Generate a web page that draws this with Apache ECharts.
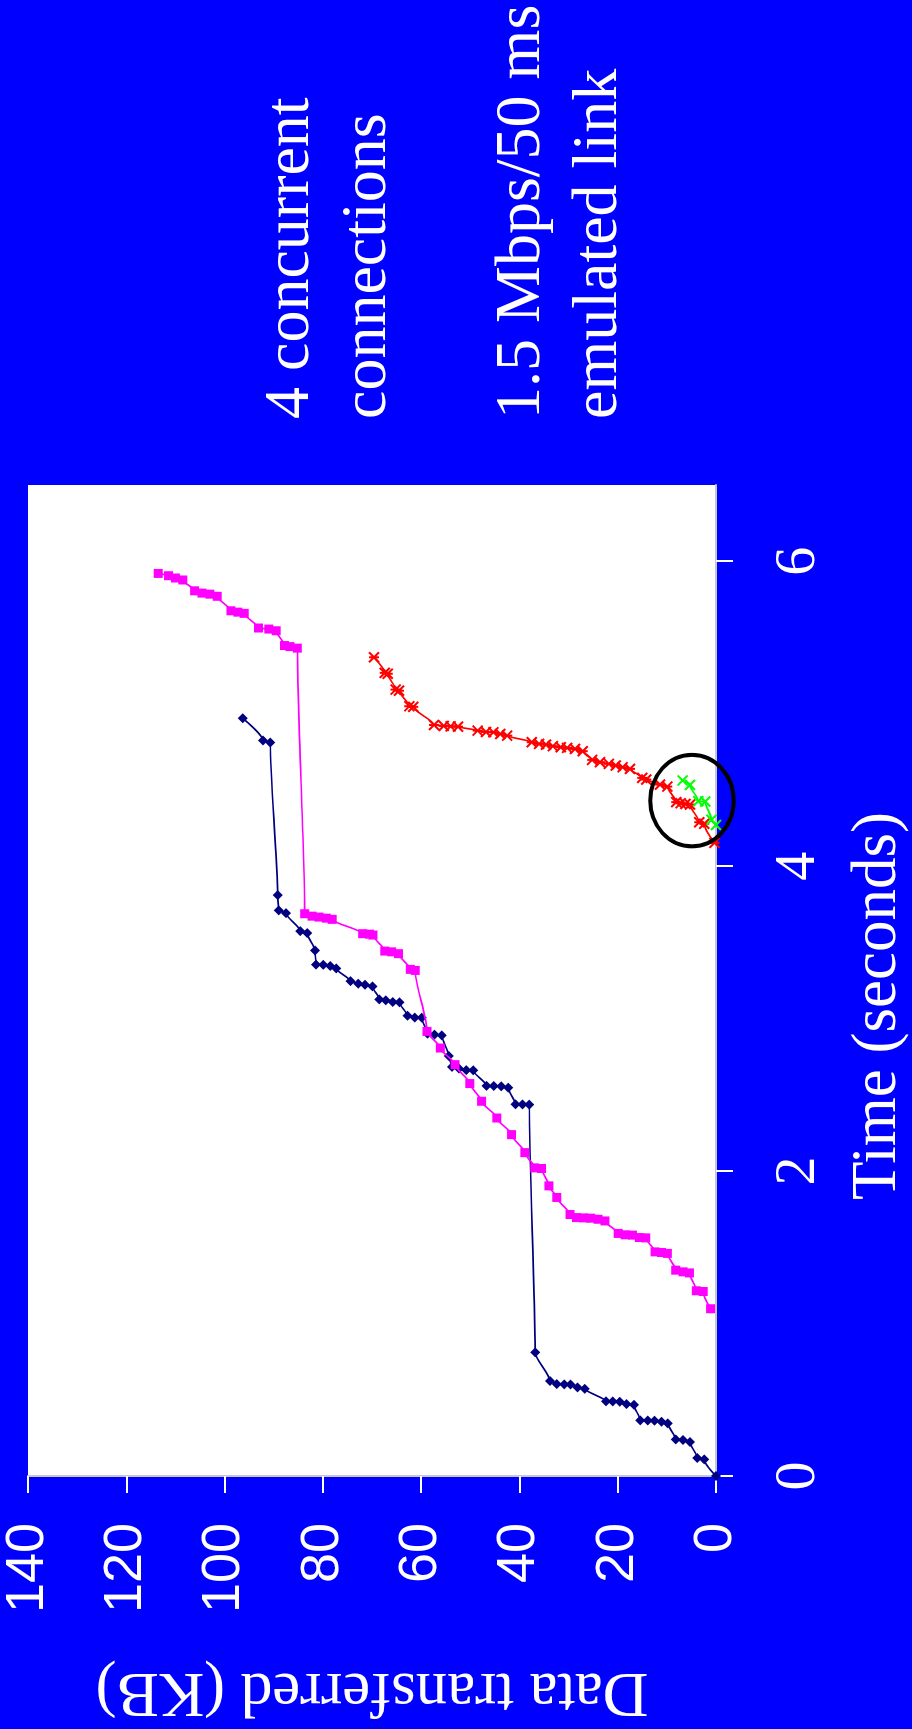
<!DOCTYPE html>
<html>
<head>
<meta charset="utf-8">
<title>Data transferred over time, 4 concurrent connections</title>
<script src="https://cdn.jsdelivr.net/npm/echarts@6/dist/echarts.min.js"></script>
<style>
  html, body { margin: 0; padding: 0; width: 912px; height: 1729px; overflow: hidden; background: #0000ff; }
  /* The slide is laid out in landscape and turned a quarter turn counter-clockwise. */
  #slide {
    position: absolute; left: 0; top: 0;
    width: 1729px; height: 912px;
    transform-origin: 0 0;
    transform: translate(0, 1729px) rotate(-90deg);
  }
</style>
</head>
<body>
<div id="slide"></div>
<script>
// Each point: [time (s), data transferred (KB)]
const conn1 = [
  [0, 0], [0.109, 2.4], [0.118, 3.8], [0.223, 5.3], [0.236, 6.7], [0.240, 8.2],
  [0.345, 9.8], [0.356, 11.1], [0.363, 12.5], [0.364, 13.9], [0.365, 15.4],
  [0.467, 16.7], [0.472, 18.2], [0.487, 19.6], [0.489, 21.0], [0.490, 22.4],
  [0.572, 26.7], [0.581, 28.2], [0.600, 29.6], [0.601, 30.9], [0.603, 32.4], [0.623, 33.8],
  [0.811, 36.8],
  [2.436, 38.0], [2.437, 39.4], [2.438, 40.8],
  [2.547, 42.3], [2.556, 43.7], [2.558, 45.2], [2.559, 46.7],
  [2.661, 49.4], [2.662, 50.8], [2.672, 52.3], [2.683, 53.7], [2.755, 54.4],
  [2.890, 55.8], [2.895, 57.3], [2.901, 58.7],
  [3.006, 59.9], [3.007, 61.3], [3.019, 62.8],
  [3.107, 64.4], [3.109, 65.8], [3.120, 67.2], [3.126, 68.5],
  [3.211, 69.9], [3.222, 71.4], [3.229, 72.8], [3.246, 74.4],
  [3.329, 77.3], [3.345, 78.5], [3.353, 79.9], [3.354, 81.4],
  [3.447, 81.6], [3.561, 83.2], [3.574, 84.6],
  [3.692, 87.5], [3.710, 89.0], [3.810, 89.2],
  [4.811, 90.7], [4.824, 92.2], [4.970, 96.3]
];
const conn2 = [
  [1.097, 1.1], [1.210, 2.6], [1.215, 4.0],
  [1.332, 5.4], [1.339, 6.7], [1.350, 8.2],
  [1.460, 9.9], [1.466, 11.1], [1.470, 12.4],
  [1.562, 14.3], [1.564, 15.6], [1.580, 17.0], [1.582, 18.5], [1.591, 19.9],
  [1.673, 22.6], [1.684, 24.0], [1.691, 25.5], [1.693, 26.9], [1.695, 28.4], [1.715, 29.7],
  [1.827, 32.4], [1.903, 34.0], [2.017, 35.5], [2.021, 36.9], [2.121, 38.9],
  [2.239, 41.6], [2.348, 44.6], [2.458, 47.7], [2.574, 50.1], [2.698, 53.1],
  [2.807, 56.1], [2.916, 58.8],
  [3.316, 61.2], [3.323, 62.2],
  [3.426, 64.6], [3.438, 66.0], [3.443, 67.4],
  [3.548, 69.8], [3.554, 70.5], [3.557, 71.9],
  [3.651, 78.1], [3.659, 79.3], [3.666, 80.8], [3.672, 82.2], [3.688, 83.7],
  [5.430, 85.2], [5.440, 86.7], [5.447, 87.8],
  [5.544, 89.5], [5.555, 91.0], [5.562, 93.1],
  [5.658, 96.0], [5.666, 97.3], [5.675, 98.7],
  [5.770, 101.5], [5.784, 103.0], [5.791, 104.6], [5.806, 106.1],
  [5.877, 108.5], [5.890, 110.0], [5.905, 111.4], [5.920, 113.5]
];
const conn3 = [
  [4.153, 0.3], [4.278, 2.4], [4.288, 3.4],
  [4.404, 5.3], [4.408, 6.2], [4.413, 7.2], [4.420, 8.1],
  [4.522, 9.9], [4.535, 11.4], [4.568, 14.2], [4.579, 15.0],
  [4.638, 17.5], [4.649, 19.0], [4.660, 20.4], [4.671, 21.8], [4.682, 23.6], [4.697, 25.2],
  [4.754, 27.1], [4.769, 28.7], [4.776, 30.3], [4.780, 31.6], [4.787, 33.2], [4.797, 34.6],
  [4.802, 36.0], [4.813, 37.5],
  [4.856, 42.5], [4.867, 43.9], [4.878, 45.3], [4.880, 46.8], [4.889, 48.5],
  [4.915, 52.5], [4.917, 54.0], [4.920, 55.4], [4.926, 57.4],
  [5.045, 61.6], [5.049, 62.4], [5.151, 64.5], [5.158, 65.2],
  [5.262, 66.8], [5.268, 67.4], [5.370, 69.6]
];
const conn4 = [
  [4.270, 0], [4.304, 0.9], [4.424, 2.2], [4.426, 3.6], [4.533, 5.3], [4.562, 6.8]
];
// Highlight ring: [centre time, centre KB, half-width (s), half-height (KB)]
const highlight = [4.43, 4.9, 0.30, 8.5];

const timeTicks = [0, 2, 4, 6];
const kbTicks = { min: 0, max: 140, step: 20 };

const notes = ['4 concurrent\nconnections', '1.5 Mbps/50 ms\nemulated link'];

const SERIF = '"Liberation Serif", "Times New Roman", serif';
const SANS = '"Liberation Sans", Arial, sans-serif';

// Excel-style star (x with a bar) and cross markers
const starMarker = 'path://M0,0L10,10M10,0L0,10M5,0L5,10';
const crossMarker = 'path://M0,0L10,10M10,0L0,10';

function connSeries(name, data, color, symbol, size, z) {
  const stroked = symbol.indexOf('path://') === 0;
  return {
    name, type: 'line', data, z,
    symbol, symbolSize: size, showAllSymbol: true,
    smooth: 0.25, smoothMonotone: 'x',
    lineStyle: { color, width: 1.7 },
    itemStyle: stroked ? { color: 'rgba(0,0,0,0)', borderColor: color, borderWidth: 2 } : { color },
    emphasis: { disabled: true },
    animation: false
  };
}

const chart = echarts.init(document.getElementById('slide'), null, { renderer: 'canvas' });
chart.setOption({
  backgroundColor: '#0000ff',
  animation: false,
  grid: {
    left: 253, top: 28, width: 991, height: 688,
    show: true, backgroundColor: '#ffffff', borderWidth: 0,
    containLabel: false, outerBoundsMode: 'none'
  },
  xAxis: {
    type: 'value', min: 0, max: 6.5,
    axisLine: { show: true, onZero: false, lineStyle: { color: '#c8c8c8', width: 2 } },
    axisTick: { show: true, inside: false, length: 17, customValues: timeTicks, lineStyle: { color: '#ffffff', width: 2 } },
    axisLabel: { customValues: timeTicks, color: '#ffffff', fontFamily: SERIF, fontSize: 58, margin: 54 },
    splitLine: { show: false },
    name: 'Time (seconds)', nameLocation: 'middle', nameGap: 131, nameMoveOverlap: false,
    nameTextStyle: { color: '#ffffff', fontFamily: SERIF, fontSize: 63, padding: [0, 51, 0, 0] }
  },
  yAxis: {
    type: 'value', min: kbTicks.min, max: kbTicks.max, interval: kbTicks.step,
    axisLine: { show: true, onZero: false, lineStyle: { color: '#c8c8c8', width: 2 } },
    axisTick: { show: true, inside: false, length: 17, lineStyle: { color: '#ffffff', width: 2 } },
    axisLabel: { color: '#ffffff', fontFamily: SANS, fontSize: 54, margin: 47, padding: [9, 0, 0, 0] },
    splitLine: { show: false },
    name: 'Data transferred (KB)', nameLocation: 'middle', nameRotate: 90, nameGap: 183, nameMoveOverlap: false,
    nameTextStyle: { color: '#ffffff', fontFamily: SERIF, fontSize: 63 }
  },
  series: [
    connSeries('Connection 1', conn1, '#000080', 'diamond', 10, 2),
    connSeries('Connection 2', conn2, '#ff00ff', 'rect', 9, 3),
    connSeries('Connection 3', conn3, '#ff0000', starMarker, 10, 4),
    connSeries('Connection 4', conn4, '#00ff00', crossMarker, 10, 5),
    {
      type: 'custom', coordinateSystem: 'cartesian2d', clip: false, z: 6, silent: true,
      data: [highlight],
      renderItem: function (params, api) {
        const c = api.coord([api.value(0), api.value(1)]);
        const s = api.size([api.value(2), api.value(3)]);
        return {
          type: 'ellipse',
          shape: { cx: c[0], cy: c[1], rx: s[0], ry: s[1] },
          style: { fill: 'none', stroke: '#000000', lineWidth: 4 }
        };
      }
    }
  ],
  graphic: [
    { type: 'text', x: 1310, y: 253, silent: true,
      style: { text: notes[0], fill: '#ffffff', font: '64px ' + SERIF, lineHeight: 77, align: 'left', verticalAlign: 'top' } },
    { type: 'text', x: 1310, y: 484, silent: true,
      style: { text: notes[1], fill: '#ffffff', font: '64px ' + SERIF, lineHeight: 77, align: 'left', verticalAlign: 'top' } }
  ]
});
</script>
</body>
</html>
